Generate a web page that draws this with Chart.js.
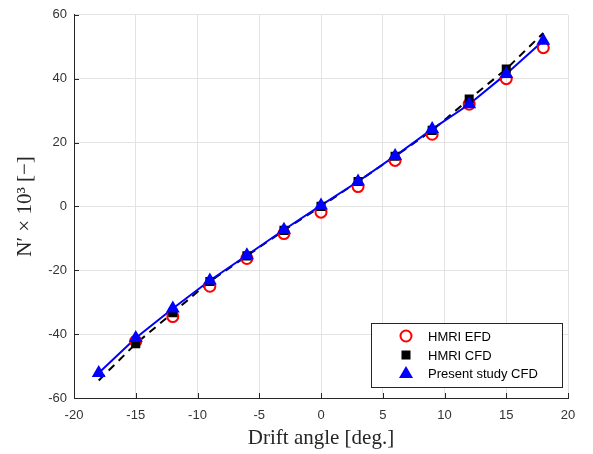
<!DOCTYPE html>
<html>
<head>
<meta charset="utf-8">
<script src="https://cdn.jsdelivr.net/npm/chart.js@4/dist/chart.umd.min.js"></script>
<style>
html,body{margin:0;padding:0;background:#fff;}
#wrap{width:593px;height:454px;position:relative;}
</style>
</head>
<body>
<div id="wrap"><canvas id="c" width="593" height="454"></canvas></div>
<script>
const angles = [-18, -15, -12, -9, -6, -3, 0, 3, 6, 9, 12, 15, 18];
const hmriEfd = [null, -42.2, -34.5, -25.0, -16.3, -8.5, -1.8, 6.2, 14.4, 22.6, 32.0, 40.0, 49.7];
const hmriCfd = [-54.5, -43.0, -33.3, -23.5, -15.5, -7.5, 0.0, 7.8, 15.7, 23.8, 33.6, 43.0, 54.3];
const presentCfd = [-52.2, -41.2, -32.0, -23.2, -15.3, -7.3, 0.3, 7.8, 15.8, 24.2, 32.0, 41.5, 51.9];
const seriesNames = ["HMRI EFD", "HMRI CFD", "Present study CFD"];
const xTicks = [-20, -15, -10, -5, 0, 5, 10, 15, 20];
const yTicks = [-60, -40, -20, 0, 20, 40, 60];

function pts(vals) {
  const out = [];
  angles.forEach((a, i) => { if (vals[i] !== null) out.push({x: a, y: vals[i]}); });
  return out;
}
// square markers are hidden at the end points of the HMRI CFD curve
const cfdRadius = angles.map((a, i) => (i === 0 || i === angles.length - 1) ? 0 : 6.4);

const innerTicksPlugin = {
  id: 'innerTicks',
  afterDatasetsDraw(chart) {
    const ctx = chart.ctx, xs = chart.scales.x, ys = chart.scales.y, a = chart.chartArea;
    ctx.save();
    ctx.strokeStyle = '#262626';
    ctx.lineWidth = 1;
    ctx.beginPath();
    xTicks.forEach(v => {
      const px = Math.round(xs.getPixelForValue(v)) + 0.5;
      ctx.moveTo(px, a.bottom); ctx.lineTo(px, a.bottom - 5);
    });
    yTicks.forEach(v => {
      const py = Math.round(ys.getPixelForValue(v)) + 0.5;
      ctx.moveTo(a.left, py); ctx.lineTo(a.left + 5, py);
    });
    ctx.stroke();
    ctx.restore();
  }
};

const legendPlugin = {
  id: 'boxLegend',
  afterDraw(chart) {
    const ctx = chart.ctx;
    const L = 371, T = 323, R = 562, B = 387;
    ctx.save();
    ctx.fillStyle = '#fff';
    ctx.fillRect(L, T, R - L, B - T);
    ctx.strokeStyle = '#262626';
    ctx.lineWidth = 1;
    ctx.strokeRect(L + 0.5, T + 0.5, R - L, B - T);
    const rows = [336, 355, 373];
    const mx = 406;
    ctx.beginPath();
    ctx.arc(mx, rows[0], 5.5, 0, Math.PI * 2);
    ctx.strokeStyle = '#ff0000'; ctx.lineWidth = 2; ctx.stroke();
    ctx.fillStyle = '#000';
    ctx.fillRect(mx - 4.5, rows[1] - 4.5, 9, 9);
    ctx.beginPath();
    ctx.moveTo(mx, rows[2] - 7);
    ctx.lineTo(mx + 7, rows[2] + 5);
    ctx.lineTo(mx - 7, rows[2] + 5);
    ctx.closePath();
    ctx.fillStyle = '#0000ff'; ctx.fill();
    ctx.fillStyle = '#000';
    ctx.font = '13px "Liberation Sans", Arial, sans-serif';
    ctx.textBaseline = 'middle';
    ctx.textAlign = 'left';
    seriesNames.forEach((n, i) => ctx.fillText(n, 428, rows[i] + 1));
    ctx.restore();
  }
};

new Chart(document.getElementById('c'), {
  type: 'scatter',
  data: {
    datasets: [
      {
        label: seriesNames[2], data: pts(presentCfd), order: 0,
        showLine: false, pointStyle: 'triangle', pointRadius: 8, pointHoverRadius: 8,
        backgroundColor: '#0000ff', borderColor: '#0000ff', borderWidth: 0
      },
      {
        label: seriesNames[1], data: pts(hmriCfd), order: 1,
        showLine: false, pointStyle: 'rect', pointRadius: cfdRadius, pointHoverRadius: cfdRadius,
        backgroundColor: '#000', borderColor: '#000', borderWidth: 0
      },
      {
        label: seriesNames[0], data: pts(hmriEfd), order: 2,
        showLine: false, pointStyle: 'circle', pointRadius: 5.5, pointHoverRadius: 5.5,
        backgroundColor: 'rgba(0,0,0,0)', borderColor: '#ff0000', borderWidth: 2
      },
      {
        label: 'present line', data: pts(presentCfd), order: 3,
        showLine: true, pointRadius: 0, borderColor: '#0000ff', borderWidth: 2, fill: false
      },
      {
        label: 'hmri line', data: pts(hmriCfd), order: 4,
        showLine: true, pointRadius: 0, borderColor: '#000', borderWidth: 2, borderDash: [8, 6], fill: false
      }
    ]
  },
  options: {
    responsive: false,
    animation: false,
    events: [],
    layout: { padding: { left: 0, top: 14, right: 25, bottom: 0 } },
    plugins: { legend: { display: false }, tooltip: { enabled: false } },
    scales: {
      x: {
        type: 'linear', min: -20, max: 20,
        afterFit(s) { s.height = 56; },
        afterBuildTicks(s) { s.ticks = xTicks.map(v => ({value: v})); },
        grid: { color: '#e3e3e3', drawTicks: false },
        border: { color: '#262626', width: 1 },
        ticks: { color: '#333', padding: 10, font: { family: '"Liberation Sans", Arial, sans-serif', size: 13 } },
        title: { display: true, text: 'Drift angle [deg.]', color: '#262626',
                 font: { family: '"Liberation Serif", "Times New Roman", serif', size: 21 },
                 padding: { top: 0, bottom: 3 } }
      },
      y: {
        type: 'linear', min: -60, max: 60,
        afterFit(s) { s.width = 74; },
        afterBuildTicks(s) { s.ticks = yTicks.map(v => ({value: v})); },
        grid: { color: '#e3e3e3', drawTicks: false },
        border: { color: '#262626', width: 1 },
        ticks: { color: '#333', padding: 7, font: { family: '"Liberation Sans", Arial, sans-serif', size: 13 } },
        title: { display: true, text: 'N\u2032 \u00d7 10\u00b3 [\u2212]', color: '#262626',
                 font: { family: '"Liberation Serif", "Times New Roman", serif', size: 21 },
                 padding: { top: 13, bottom: 0 } }
      }
    }
  },
  plugins: [innerTicksPlugin, legendPlugin]
});
</script>
</body>
</html>
